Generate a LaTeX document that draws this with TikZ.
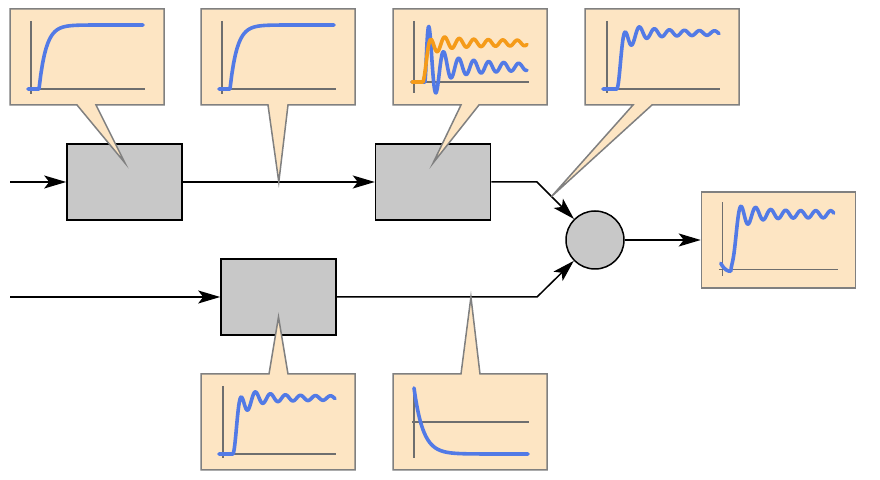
\documentclass[tikz,border=0pt]{standalone}
\usetikzlibrary{positioning, calc, arrows.meta}
\definecolor{bubblefill}{RGB}{253,229,195}
\definecolor{bubbleedge}{RGB}{128,128,128}
\definecolor{blockgray}{RGB}{200,200,200}
\definecolor{axisgray}{RGB}{110,110,110}
\definecolor{traceblue}{RGB}{82,122,230}
\definecolor{traceorange}{RGB}{245,155,25}
% callout above the line: box x, tail base left/right, tail tip
\newcommand{\bubbletop}[4]{\draw[bubble] (#1,105) -- (#1,9) -- ++(154,0) -- ++(0,96) -- (#3,105) -- (#4) -- (#2,105) -- cycle;}
% callout below the line
\newcommand{\bubblebottom}[4]{\draw[bubble] (#1,374) -- (#1,470) -- ++(154,0) -- ++(0,-96) -- (#3,374) -- (#4) -- (#2,374) -- cycle;}

\begin{document}
\begin{tikzpicture}[x=0.5pt, y=-0.5pt, node distance=96pt,
    block/.style={draw, line width=0.8pt, fill=blockgray, minimum width=57.5pt, minimum height=38pt},
    adder/.style={circle, draw, line width=0.75pt, fill=blockgray, minimum size=29pt, inner sep=0pt},
    signal/.style={line width=0.75pt, -{Stealth[length=11pt, width=6.5pt, inset=2.5pt]}},
    bubble/.style={draw=bubbleedge, fill=bubblefill, line width=0.75pt},
    axis/.style={draw=axisgray, line width=0.7pt},
    trace/.style={line width=1.8pt, line join=round, line cap=round},
]
\useasboundingbox (0,0) rectangle (880,480);

\node[block] (G1) at (124.5,182) {};
\node[block] (G2) [right=of G1] {};
\node[block] (H) at (278.5,297) {};
\node[adder] (sum) at (595,240) {};
\node[bubble, minimum width=77pt, minimum height=48pt] (out) [right=38pt of sum] {};

\coordinate (in1) at (10,182);
\coordinate (in2) at (10,297);
\coordinate (k1) at (537,182);
\coordinate (k2) at (537,297);

\draw[signal] (in1) -- (G1);
\draw[signal] (G1) -- (G2);
\draw[signal] (in2) -- (H);
\draw[signal] (G2) -- (k1) -- (sum);
\draw[signal] (H) -- (k2) -- (sum);
\draw[signal] (sum) -- (out);

\coordinate (tipA) at ($(G1.center)+(0.5,-19)$);
\coordinate (tipB) at ($(G1.east)!0.5!(G2.west)$);
\coordinate (tipC) at ($(G2.center)+(0,-19)$);
\coordinate (tipD) at ($(k1)!0.25!(sum)$);
\coordinate (tipE) at ($(H.center)+(0,20)$);
\coordinate (tipF) at ($(H.east)!0.67!(k2)$);

\bubbletop{10}{77}{96}{tipA}
\bubbletop{201}{268}{288}{tipB}
\bubbletop{393}{461}{479}{tipC}
\bubbletop{585}{633}{652}{tipD}
\bubblebottom{201}{269}{288}{tipE}
\bubblebottom{393}{461}{480}{tipF}

% first order lag
\foreach \bx in {10,201} {
\begin{scope}[shift={(\bx,9)}]
    \draw[axis] (21,12) -- (21,85);
    \draw[axis] (18,80) -- (135,80);
    \draw[trace, traceblue] (18,80) -- (29,80) -- plot[domain=29:133, samples=60] (\x,{80-64*(1-exp(-(\x-29)/7))});
\end{scope}
}
% two traces after the second block
\begin{scope}[shift={(393,9)}]
    \draw[axis] (21,12) -- (21,84);
    \draw[axis] (19,73) -- (136,73);
    \draw[trace, traceblue] (19,73) -- (32,73) -- plot[domain=32:134, samples=160] (\x,{73-(15*(1-exp(-(\x-32)/3))+(60*exp(-(\x-32)/8)+12*exp(-(\x-32)/80))*(1-exp(-(\x-32)/1.5))*sin(24*(\x-32)))});
    \draw[trace, traceorange] (19,73) -- (30,73) -- plot[domain=30:134, samples=160] (\x,{73-(39*(1-exp(-(\x-30)/4))-(9*exp(-(\x-30)/15)+4.5*exp(-(\x-30)/200))*(1-exp(-(\x-30)/2))*cos(24.8*(\x-30)))});
\end{scope}
% ringing step responses
\foreach \bx/\by in {585/9, 201/374} {
\begin{scope}[shift={(\bx,\by)}]
    \draw[axis] (22,12) -- (22,84);
    \draw[axis] (18,80) -- (135,80);
    \draw[trace, traceblue] (18,80) -- (32,80) -- plot[domain=32:134, samples=160] (\x,{80-(56*(1-exp(-(\x-32)/5))-(16*exp(-(\x-32)/15)+3.5*exp(-(\x-32)/200))*(1-exp(-(\x-32)/2))*cos(24*(\x-32)))});
\end{scope}
}
% decaying response
\begin{scope}[shift={(393,374)}]
    \draw[axis] (21,13) -- (21,84);
    \draw[axis] (19,48) -- (136,48);
    \draw[trace, traceblue] plot[domain=21:135, samples=80] (\x,{80-66*exp(-(\x-21)/9)});
\end{scope}
% output
\begin{scope}[shift={(out.north west)}]
    \draw[axis] (22,11) -- (22,85);
    \draw[axis] (18,78) -- (137,78);
    \draw[trace, traceblue] (20,72) .. controls (24,79) and (27,80) .. (30,80) -- plot[domain=30:133, samples=160] (\x,{78-(-2+57*(1-exp(-(\x-30)/4))-(18*exp(-(\x-30)/15)+3.5)*(1-exp(-(\x-30)/2))*cos(24*(\x-32.5)))});
\end{scope}
\end{tikzpicture}
\end{document}
